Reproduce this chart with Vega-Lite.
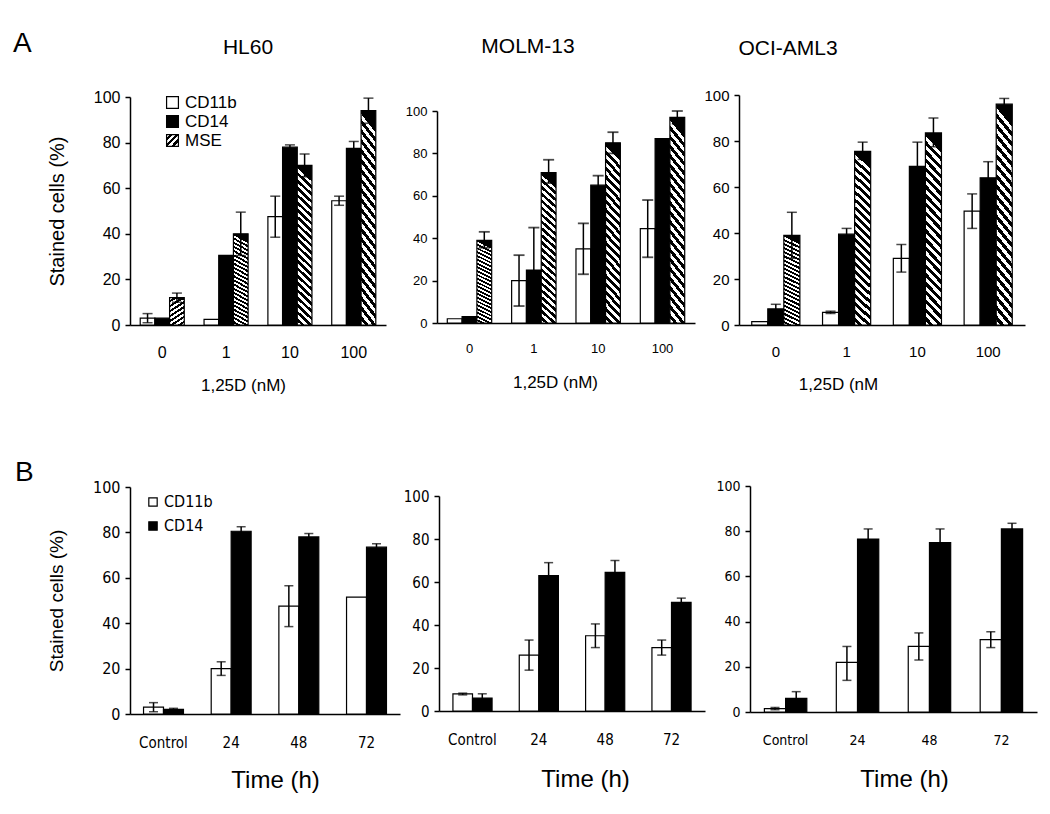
{
  "$schema": "https://vega.github.io/schema/vega-lite/v6.json",
  "background": "white",
  "padding": {"left": 13, "top": 30, "right": 5, "bottom": 5},
  "bounds": "flush",
  "spacing": 391,
  "resolve": {"scale": {"fill": "independent", "x": "independent", "y": "independent", "xOffset": "independent"}, "legend": {"fill": "independent"}},
  "config": {
    "view": {"stroke": null},
    "font": "Liberation Sans",
    "axis": {"grid": false, "domainColor": "black", "tickColor": "black", "labelColor": "black", "titleColor": "black", "titleFontWeight": "normal", "labelFont": "Liberation Sans", "titleFont": "Liberation Sans", "domainWidth": 1.5, "tickWidth": 1.5},
    "title": {"color": "black", "fontWeight": "normal", "font": "Liberation Sans"},
    "legend": {"labelColor": "black", "symbolStrokeColor": "black", "symbolStrokeWidth": 1.2, "symbolType": "square"}
  },
  "datasets": {
    "hl60A": [
      {"dose": "0", "marker": "CD11b", "value": 3, "lo": 1, "hi": 5},
      {"dose": "0", "marker": "CD14", "value": 3, "lo": null, "hi": null},
      {"dose": "0", "marker": "MSE", "value": 12, "lo": 10, "hi": 14},
      {"dose": "1", "marker": "CD11b", "value": 2.5, "lo": null, "hi": null},
      {"dose": "1", "marker": "CD14", "value": 30.5, "lo": null, "hi": null},
      {"dose": "1", "marker": "MSE", "value": 40, "lo": 30.5, "hi": 49.5},
      {"dose": "10", "marker": "CD11b", "value": 47.5, "lo": 38.5, "hi": 56.5},
      {"dose": "10", "marker": "CD14", "value": 78, "lo": 77, "hi": 79},
      {"dose": "10", "marker": "MSE", "value": 70, "lo": 65, "hi": 75},
      {"dose": "100", "marker": "CD11b", "value": 54.5, "lo": 52.5, "hi": 56.5},
      {"dose": "100", "marker": "CD14", "value": 77.5, "lo": 74.5, "hi": 80.5},
      {"dose": "100", "marker": "MSE", "value": 94, "lo": 88.5, "hi": 99.5}
    ],
    "molmA": [
      {"dose": "0", "marker": "CD11b", "value": 2, "lo": null, "hi": null},
      {"dose": "0", "marker": "CD14", "value": 3, "lo": null, "hi": null},
      {"dose": "0", "marker": "MSE", "value": 39, "lo": 35.5, "hi": 43},
      {"dose": "1", "marker": "CD11b", "value": 20, "lo": 8, "hi": 32},
      {"dose": "1", "marker": "CD14", "value": 25, "lo": 5, "hi": 45},
      {"dose": "1", "marker": "MSE", "value": 71, "lo": 66, "hi": 77},
      {"dose": "10", "marker": "CD11b", "value": 35, "lo": 23, "hi": 47},
      {"dose": "10", "marker": "CD14", "value": 65, "lo": 60.5, "hi": 69.5},
      {"dose": "10", "marker": "MSE", "value": 85, "lo": 80, "hi": 90},
      {"dose": "100", "marker": "CD11b", "value": 44.5, "lo": 31, "hi": 58},
      {"dose": "100", "marker": "CD14", "value": 87, "lo": null, "hi": null},
      {"dose": "100", "marker": "MSE", "value": 97, "lo": 94, "hi": 100}
    ],
    "ociA": [
      {"dose": "0", "marker": "CD11b", "value": 1.5, "lo": null, "hi": null},
      {"dose": "0", "marker": "CD14", "value": 7, "lo": 5, "hi": 9},
      {"dose": "0", "marker": "MSE", "value": 39, "lo": 29, "hi": 49},
      {"dose": "1", "marker": "CD11b", "value": 5.5, "lo": 5, "hi": 6},
      {"dose": "1", "marker": "CD14", "value": 39.5, "lo": 37, "hi": 42},
      {"dose": "1", "marker": "MSE", "value": 75.5, "lo": 72, "hi": 79.5},
      {"dose": "10", "marker": "CD11b", "value": 29, "lo": 23, "hi": 35},
      {"dose": "10", "marker": "CD14", "value": 69, "lo": 59, "hi": 79.5},
      {"dose": "10", "marker": "MSE", "value": 83.5, "lo": 77.5, "hi": 90},
      {"dose": "100", "marker": "CD11b", "value": 49.5, "lo": 42, "hi": 57},
      {"dose": "100", "marker": "CD14", "value": 64, "lo": 57, "hi": 71},
      {"dose": "100", "marker": "MSE", "value": 96, "lo": 93, "hi": 98.5}
    ],
    "hl60B": [
      {"time": "Control", "marker": "CD11b", "value": 3, "lo": 1, "hi": 5},
      {"time": "Control", "marker": "CD14", "value": 2, "lo": 1.5, "hi": 2.5},
      {"time": "24", "marker": "CD11b", "value": 20, "lo": 17, "hi": 23},
      {"time": "24", "marker": "CD14", "value": 80.5, "lo": 78.5, "hi": 82.5},
      {"time": "48", "marker": "CD11b", "value": 47.5, "lo": 38.5, "hi": 56.5},
      {"time": "48", "marker": "CD14", "value": 78, "lo": 76.5, "hi": 79.5},
      {"time": "72", "marker": "CD11b", "value": 51.5, "lo": null, "hi": null},
      {"time": "72", "marker": "CD14", "value": 73.5, "lo": 72, "hi": 75}
    ],
    "molmB": [
      {"time": "Control", "marker": "CD11b", "value": 8, "lo": 7.5, "hi": 8.3},
      {"time": "Control", "marker": "CD14", "value": 6, "lo": 4, "hi": 8},
      {"time": "24", "marker": "CD11b", "value": 26, "lo": 19, "hi": 33},
      {"time": "24", "marker": "CD14", "value": 63, "lo": 57.5, "hi": 69},
      {"time": "48", "marker": "CD11b", "value": 35, "lo": 29.5, "hi": 40.5},
      {"time": "48", "marker": "CD14", "value": 64.5, "lo": 59, "hi": 70},
      {"time": "72", "marker": "CD11b", "value": 29.5, "lo": 26, "hi": 33},
      {"time": "72", "marker": "CD14", "value": 50.5, "lo": 48.5, "hi": 52.5}
    ],
    "ociB": [
      {"time": "Control", "marker": "CD11b", "value": 1.5, "lo": 1, "hi": 2},
      {"time": "Control", "marker": "CD14", "value": 6, "lo": 3, "hi": 9},
      {"time": "24", "marker": "CD11b", "value": 22, "lo": 14, "hi": 29},
      {"time": "24", "marker": "CD14", "value": 76.5, "lo": 72, "hi": 81},
      {"time": "48", "marker": "CD11b", "value": 29, "lo": 23, "hi": 35},
      {"time": "48", "marker": "CD14", "value": 75, "lo": 69, "hi": 81},
      {"time": "72", "marker": "CD11b", "value": 32, "lo": 28.5, "hi": 35.5},
      {"time": "72", "marker": "CD14", "value": 81, "lo": 79, "hi": 83.5}
    ]
  },
  "vconcat": [
    {
      "title": {"text": "A", "anchor": "start", "frame": "group", "fontSize": 28, "fontWeight": "normal", "dx": -117, "dy": 22, "offset": 0},
      "bounds": "flush",
      "spacing": 51,
      "resolve": {"scale": {"fill": "independent", "x": "independent", "y": "independent", "xOffset": "independent"}, "legend": {"fill": "independent"}},
      "hconcat": [
        {
          "width": 256, "height": 230,
          "data": {"name": "hl60A"},
          "title": {"text": "HL60", "fontSize": 21, "fontWeight": "normal", "dx": -10, "offset": 31},
          "encoding": {
            "x": {"field": "dose", "type": "nominal", "sort": ["0", "1", "10", "100"], "scale": {"paddingInner": 0.31, "paddingOuter": 0.16}, "axis": {"labelAngle": 0, "ticks": false, "tickSize": 0, "labelFontSize": 16, "labelPadding": 19, "title": "1,25D (nM)", "titleFontSize": 17, "titleFontWeight": "normal", "titlePadding": 17, "titleX": 113}},
            "xOffset": {"field": "marker", "type": "nominal", "scale": {"domain": ["CD11b", "CD14", "MSE"], "paddingInner": 0, "paddingOuter": 0}}
          },
          "layer": [
            {"transform": [{"filter": "datum.marker !== 'MSE'"}],
             "mark": {"type": "bar", "stroke": "black", "strokeWidth": 1.2},
             "encoding": {
               "y": {"field": "value", "type": "quantitative", "scale": {"domain": [0, 100], "range": [230, 2]}, "axis": {"values": [0, 20, 40, 60, 80, 100], "tickSize": 5, "labelFontSize": 16, "labelPadding": 5, "title": "Stained cells (%)", "titleFontSize": 20, "titleFontWeight": "normal", "titlePadding": 26}},
               "fill": {"field": "marker", "type": "nominal", "scale": {"domain": ["CD11b", "CD14", "MSE"], "range": ["white", "black", "url(#gradient_0) #777777"]},
                 "legend": {"orient": "none", "legendX": 34, "legendY": -1, "title": null, "symbolSize": 140, "labelFontSize": 17, "rowPadding": 1, "labelOffset": 4}}
             }},
            {"transform": [{"filter": "datum.marker === 'MSE'"}],
             "mark": {"type": "bar", "stroke": "black", "strokeWidth": 1.2, "fill": {"gradient": "linear", "x1": 0.088, "y1": 0, "x2": 0, "y2": 1, "stops": [
                 {"offset": 0, "color": "black"}, {"offset": 0.0227, "color": "black"}, {"offset": 0.0227, "color": "white"}, {"offset": 0.0455, "color": "white"},
                 {"offset": 0.0455, "color": "black"}, {"offset": 0.0682, "color": "black"}, {"offset": 0.0682, "color": "white"}, {"offset": 0.0909, "color": "white"},
                 {"offset": 0.0909, "color": "black"}, {"offset": 0.1136, "color": "black"}, {"offset": 0.1136, "color": "white"}, {"offset": 0.1364, "color": "white"},
                 {"offset": 0.1364, "color": "black"}, {"offset": 0.1591, "color": "black"}, {"offset": 0.1591, "color": "white"}, {"offset": 0.1818, "color": "white"},
                 {"offset": 0.1818, "color": "black"}, {"offset": 0.2045, "color": "black"}, {"offset": 0.2045, "color": "white"}, {"offset": 0.2273, "color": "white"},
                 {"offset": 0.2273, "color": "black"}, {"offset": 0.25, "color": "black"}, {"offset": 0.25, "color": "white"}, {"offset": 0.2727, "color": "white"},
                 {"offset": 0.2727, "color": "black"}, {"offset": 0.2955, "color": "black"}, {"offset": 0.2955, "color": "white"}, {"offset": 0.3182, "color": "white"},
                 {"offset": 0.3182, "color": "black"}, {"offset": 0.3409, "color": "black"}, {"offset": 0.3409, "color": "white"}, {"offset": 0.3636, "color": "white"},
                 {"offset": 0.3636, "color": "black"}, {"offset": 0.3864, "color": "black"}, {"offset": 0.3864, "color": "white"}, {"offset": 0.4091, "color": "white"},
                 {"offset": 0.4091, "color": "black"}, {"offset": 0.4318, "color": "black"}, {"offset": 0.4318, "color": "white"}, {"offset": 0.4545, "color": "white"},
                 {"offset": 0.4545, "color": "black"}, {"offset": 0.4773, "color": "black"}, {"offset": 0.4773, "color": "white"}, {"offset": 0.5, "color": "white"},
                 {"offset": 0.5, "color": "black"}, {"offset": 0.5227, "color": "black"}, {"offset": 0.5227, "color": "white"}, {"offset": 0.5455, "color": "white"},
                 {"offset": 0.5455, "color": "black"}, {"offset": 0.5682, "color": "black"}, {"offset": 0.5682, "color": "white"}, {"offset": 0.5909, "color": "white"},
                 {"offset": 0.5909, "color": "black"}, {"offset": 0.6136, "color": "black"}, {"offset": 0.6136, "color": "white"}, {"offset": 0.6364, "color": "white"},
                 {"offset": 0.6364, "color": "black"}, {"offset": 0.6591, "color": "black"}, {"offset": 0.6591, "color": "white"}, {"offset": 0.6818, "color": "white"},
                 {"offset": 0.6818, "color": "black"}, {"offset": 0.7045, "color": "black"}, {"offset": 0.7045, "color": "white"}, {"offset": 0.7273, "color": "white"},
                 {"offset": 0.7273, "color": "black"}, {"offset": 0.75, "color": "black"}, {"offset": 0.75, "color": "white"}, {"offset": 0.7727, "color": "white"},
                 {"offset": 0.7727, "color": "black"}, {"offset": 0.7955, "color": "black"}, {"offset": 0.7955, "color": "white"}, {"offset": 0.8182, "color": "white"},
                 {"offset": 0.8182, "color": "black"}, {"offset": 0.8409, "color": "black"}, {"offset": 0.8409, "color": "white"}, {"offset": 0.8636, "color": "white"},
                 {"offset": 0.8636, "color": "black"}, {"offset": 0.8864, "color": "black"}, {"offset": 0.8864, "color": "white"}, {"offset": 0.9091, "color": "white"},
                 {"offset": 0.9091, "color": "black"}, {"offset": 0.9318, "color": "black"}, {"offset": 0.9318, "color": "white"}, {"offset": 0.9545, "color": "white"},
                 {"offset": 0.9545, "color": "black"}, {"offset": 0.9773, "color": "black"}, {"offset": 0.9773, "color": "white"}, {"offset": 1, "color": "white"}
               ]}},
             "encoding": {"y": {"field": "value", "type": "quantitative"}}},
            {"mark": {"type": "rule", "color": "black", "strokeWidth": 1.5}, "encoding": {"y": {"field": "lo", "type": "quantitative"}, "y2": {"field": "hi"}}},
            {"mark": {"type": "tick", "color": "black", "size": 10, "thickness": 1.5}, "encoding": {"y": {"field": "hi", "type": "quantitative"}}},
            {"mark": {"type": "tick", "color": "black", "size": 10, "thickness": 1.5}, "encoding": {"y": {"field": "lo", "type": "quantitative"}}}
          ]
        },
        {
          "bounds": "flush",
          "spacing": 44,
          "resolve": {"scale": {"fill": "independent", "x": "independent", "y": "independent", "xOffset": "independent"}, "legend": {"fill": "independent"}},
          "hconcat": [
            {
              "width": 258, "height": 228,
              "data": {"name": "molmA"},
              "title": {"text": "MOLM-13", "fontSize": 21, "fontWeight": "normal", "dx": -38, "offset": 38},
              "encoding": {
                "x": {"field": "dose", "type": "nominal", "sort": ["0", "1", "10", "100"], "scale": {"paddingInner": 0.31, "paddingOuter": 0.16}, "axis": {"labelAngle": 0, "ticks": false, "tickSize": 0, "labelFontSize": 13, "labelPadding": 19, "title": "1,25D (nM)", "titleFontSize": 17, "titleFontWeight": "normal", "titlePadding": 19, "titleX": 118}},
                "xOffset": {"field": "marker", "type": "nominal", "scale": {"domain": ["CD11b", "CD14", "MSE"], "paddingInner": 0, "paddingOuter": 0}}
              },
              "layer": [
                {"transform": [{"filter": "datum.marker !== 'MSE'"}],
                 "mark": {"type": "bar", "stroke": "black", "strokeWidth": 1.2},
                 "encoding": {
                   "y": {"field": "value", "type": "quantitative", "scale": {"domain": [0, 100], "range": [228, 16]}, "axis": {"values": [0, 20, 40, 60, 80, 100], "tickSize": 5, "labelFontSize": 13, "labelPadding": 5, "title": null}},
                   "fill": {"field": "marker", "type": "nominal", "scale": {"domain": ["CD11b", "CD14"], "range": ["white", "black"]}, "legend": null}
                 }},
                {"transform": [{"filter": "datum.marker === 'MSE'"}],
                 "mark": {"type": "bar", "stroke": "black", "strokeWidth": 1.2, "fill": {"gradient": "linear", "x1": 0.088, "y1": 0, "x2": 0, "y2": 1, "stops": [
                     {"offset": 0, "color": "black"}, {"offset": 0.0227, "color": "black"}, {"offset": 0.0227, "color": "white"}, {"offset": 0.0455, "color": "white"},
                     {"offset": 0.0455, "color": "black"}, {"offset": 0.0682, "color": "black"}, {"offset": 0.0682, "color": "white"}, {"offset": 0.0909, "color": "white"},
                     {"offset": 0.0909, "color": "black"}, {"offset": 0.1136, "color": "black"}, {"offset": 0.1136, "color": "white"}, {"offset": 0.1364, "color": "white"},
                     {"offset": 0.1364, "color": "black"}, {"offset": 0.1591, "color": "black"}, {"offset": 0.1591, "color": "white"}, {"offset": 0.1818, "color": "white"},
                     {"offset": 0.1818, "color": "black"}, {"offset": 0.2045, "color": "black"}, {"offset": 0.2045, "color": "white"}, {"offset": 0.2273, "color": "white"},
                     {"offset": 0.2273, "color": "black"}, {"offset": 0.25, "color": "black"}, {"offset": 0.25, "color": "white"}, {"offset": 0.2727, "color": "white"},
                     {"offset": 0.2727, "color": "black"}, {"offset": 0.2955, "color": "black"}, {"offset": 0.2955, "color": "white"}, {"offset": 0.3182, "color": "white"},
                     {"offset": 0.3182, "color": "black"}, {"offset": 0.3409, "color": "black"}, {"offset": 0.3409, "color": "white"}, {"offset": 0.3636, "color": "white"},
                     {"offset": 0.3636, "color": "black"}, {"offset": 0.3864, "color": "black"}, {"offset": 0.3864, "color": "white"}, {"offset": 0.4091, "color": "white"},
                     {"offset": 0.4091, "color": "black"}, {"offset": 0.4318, "color": "black"}, {"offset": 0.4318, "color": "white"}, {"offset": 0.4545, "color": "white"},
                     {"offset": 0.4545, "color": "black"}, {"offset": 0.4773, "color": "black"}, {"offset": 0.4773, "color": "white"}, {"offset": 0.5, "color": "white"},
                     {"offset": 0.5, "color": "black"}, {"offset": 0.5227, "color": "black"}, {"offset": 0.5227, "color": "white"}, {"offset": 0.5455, "color": "white"},
                     {"offset": 0.5455, "color": "black"}, {"offset": 0.5682, "color": "black"}, {"offset": 0.5682, "color": "white"}, {"offset": 0.5909, "color": "white"},
                     {"offset": 0.5909, "color": "black"}, {"offset": 0.6136, "color": "black"}, {"offset": 0.6136, "color": "white"}, {"offset": 0.6364, "color": "white"},
                     {"offset": 0.6364, "color": "black"}, {"offset": 0.6591, "color": "black"}, {"offset": 0.6591, "color": "white"}, {"offset": 0.6818, "color": "white"},
                     {"offset": 0.6818, "color": "black"}, {"offset": 0.7045, "color": "black"}, {"offset": 0.7045, "color": "white"}, {"offset": 0.7273, "color": "white"},
                     {"offset": 0.7273, "color": "black"}, {"offset": 0.75, "color": "black"}, {"offset": 0.75, "color": "white"}, {"offset": 0.7727, "color": "white"},
                     {"offset": 0.7727, "color": "black"}, {"offset": 0.7955, "color": "black"}, {"offset": 0.7955, "color": "white"}, {"offset": 0.8182, "color": "white"},
                     {"offset": 0.8182, "color": "black"}, {"offset": 0.8409, "color": "black"}, {"offset": 0.8409, "color": "white"}, {"offset": 0.8636, "color": "white"},
                     {"offset": 0.8636, "color": "black"}, {"offset": 0.8864, "color": "black"}, {"offset": 0.8864, "color": "white"}, {"offset": 0.9091, "color": "white"},
                     {"offset": 0.9091, "color": "black"}, {"offset": 0.9318, "color": "black"}, {"offset": 0.9318, "color": "white"}, {"offset": 0.9545, "color": "white"},
                     {"offset": 0.9545, "color": "black"}, {"offset": 0.9773, "color": "black"}, {"offset": 0.9773, "color": "white"}, {"offset": 1, "color": "white"}
                   ]}},
                 "encoding": {"y": {"field": "value", "type": "quantitative"}}},
                {"mark": {"type": "rule", "color": "black", "strokeWidth": 1.5}, "encoding": {"y": {"field": "lo", "type": "quantitative"}, "y2": {"field": "hi"}}},
                {"mark": {"type": "tick", "color": "black", "size": 11, "thickness": 1.8}, "encoding": {"y": {"field": "hi", "type": "quantitative"}}},
                {"mark": {"type": "tick", "color": "black", "size": 11, "thickness": 1.8}, "encoding": {"y": {"field": "lo", "type": "quantitative"}}}
              ]
            },
            {
              "width": 286, "height": 230,
              "data": {"name": "ociA"},
              "title": {"text": "OCI-AML3", "fontSize": 21, "fontWeight": "normal", "dx": -94, "offset": 29},
              "encoding": {
                "x": {"field": "dose", "type": "nominal", "sort": ["0", "1", "10", "100"], "scale": {"paddingInner": 0.32, "paddingOuter": 0.18}, "axis": {"labelAngle": 0, "ticks": false, "tickSize": 0, "labelFontSize": 15, "labelPadding": 19, "title": "1,25D (nM", "titleFontSize": 17, "titleFontWeight": "normal", "titlePadding": 17, "titleX": 99}},
                "xOffset": {"field": "marker", "type": "nominal", "scale": {"domain": ["CD11b", "CD14", "MSE"], "paddingInner": 0, "paddingOuter": 0}}
              },
              "layer": [
                {"transform": [{"filter": "datum.marker !== 'MSE'"}],
                 "mark": {"type": "bar", "stroke": "black", "strokeWidth": 1.2},
                 "encoding": {
                   "y": {"field": "value", "type": "quantitative", "scale": {"domain": [0, 100], "range": [230, 0]}, "axis": {"values": [0, 20, 40, 60, 80, 100], "tickSize": 5, "labelFontSize": 15, "labelPadding": 5, "title": null}},
                   "fill": {"field": "marker", "type": "nominal", "scale": {"domain": ["CD11b", "CD14"], "range": ["white", "black"]}, "legend": null}
                 }},
                {"transform": [{"filter": "datum.marker === 'MSE'"}],
                 "mark": {"type": "bar", "stroke": "black", "strokeWidth": 1.2, "fill": {"gradient": "linear", "x1": 0.088, "y1": 0, "x2": 0, "y2": 1, "stops": [
                     {"offset": 0, "color": "black"}, {"offset": 0.0227, "color": "black"}, {"offset": 0.0227, "color": "white"}, {"offset": 0.0455, "color": "white"},
                     {"offset": 0.0455, "color": "black"}, {"offset": 0.0682, "color": "black"}, {"offset": 0.0682, "color": "white"}, {"offset": 0.0909, "color": "white"},
                     {"offset": 0.0909, "color": "black"}, {"offset": 0.1136, "color": "black"}, {"offset": 0.1136, "color": "white"}, {"offset": 0.1364, "color": "white"},
                     {"offset": 0.1364, "color": "black"}, {"offset": 0.1591, "color": "black"}, {"offset": 0.1591, "color": "white"}, {"offset": 0.1818, "color": "white"},
                     {"offset": 0.1818, "color": "black"}, {"offset": 0.2045, "color": "black"}, {"offset": 0.2045, "color": "white"}, {"offset": 0.2273, "color": "white"},
                     {"offset": 0.2273, "color": "black"}, {"offset": 0.25, "color": "black"}, {"offset": 0.25, "color": "white"}, {"offset": 0.2727, "color": "white"},
                     {"offset": 0.2727, "color": "black"}, {"offset": 0.2955, "color": "black"}, {"offset": 0.2955, "color": "white"}, {"offset": 0.3182, "color": "white"},
                     {"offset": 0.3182, "color": "black"}, {"offset": 0.3409, "color": "black"}, {"offset": 0.3409, "color": "white"}, {"offset": 0.3636, "color": "white"},
                     {"offset": 0.3636, "color": "black"}, {"offset": 0.3864, "color": "black"}, {"offset": 0.3864, "color": "white"}, {"offset": 0.4091, "color": "white"},
                     {"offset": 0.4091, "color": "black"}, {"offset": 0.4318, "color": "black"}, {"offset": 0.4318, "color": "white"}, {"offset": 0.4545, "color": "white"},
                     {"offset": 0.4545, "color": "black"}, {"offset": 0.4773, "color": "black"}, {"offset": 0.4773, "color": "white"}, {"offset": 0.5, "color": "white"},
                     {"offset": 0.5, "color": "black"}, {"offset": 0.5227, "color": "black"}, {"offset": 0.5227, "color": "white"}, {"offset": 0.5455, "color": "white"},
                     {"offset": 0.5455, "color": "black"}, {"offset": 0.5682, "color": "black"}, {"offset": 0.5682, "color": "white"}, {"offset": 0.5909, "color": "white"},
                     {"offset": 0.5909, "color": "black"}, {"offset": 0.6136, "color": "black"}, {"offset": 0.6136, "color": "white"}, {"offset": 0.6364, "color": "white"},
                     {"offset": 0.6364, "color": "black"}, {"offset": 0.6591, "color": "black"}, {"offset": 0.6591, "color": "white"}, {"offset": 0.6818, "color": "white"},
                     {"offset": 0.6818, "color": "black"}, {"offset": 0.7045, "color": "black"}, {"offset": 0.7045, "color": "white"}, {"offset": 0.7273, "color": "white"},
                     {"offset": 0.7273, "color": "black"}, {"offset": 0.75, "color": "black"}, {"offset": 0.75, "color": "white"}, {"offset": 0.7727, "color": "white"},
                     {"offset": 0.7727, "color": "black"}, {"offset": 0.7955, "color": "black"}, {"offset": 0.7955, "color": "white"}, {"offset": 0.8182, "color": "white"},
                     {"offset": 0.8182, "color": "black"}, {"offset": 0.8409, "color": "black"}, {"offset": 0.8409, "color": "white"}, {"offset": 0.8636, "color": "white"},
                     {"offset": 0.8636, "color": "black"}, {"offset": 0.8864, "color": "black"}, {"offset": 0.8864, "color": "white"}, {"offset": 0.9091, "color": "white"},
                     {"offset": 0.9091, "color": "black"}, {"offset": 0.9318, "color": "black"}, {"offset": 0.9318, "color": "white"}, {"offset": 0.9545, "color": "white"},
                     {"offset": 0.9545, "color": "black"}, {"offset": 0.9773, "color": "black"}, {"offset": 0.9773, "color": "white"}, {"offset": 1, "color": "white"}
                   ]}},
                 "encoding": {"y": {"field": "value", "type": "quantitative"}}},
                {"mark": {"type": "rule", "color": "black", "strokeWidth": 1.5}, "encoding": {"y": {"field": "lo", "type": "quantitative"}, "y2": {"field": "hi"}}},
                {"mark": {"type": "tick", "color": "black", "size": 10, "thickness": 1.5}, "encoding": {"y": {"field": "hi", "type": "quantitative"}}},
                {"mark": {"type": "tick", "color": "black", "size": 10, "thickness": 1.5}, "encoding": {"y": {"field": "lo", "type": "quantitative"}}}
              ]
            }
          ]
        }
      ]
    },
    {
      "title": {"text": "B", "anchor": "start", "frame": "group", "fontSize": 28, "fontWeight": "normal", "dx": -115, "dy": 8, "offset": 0},
      "bounds": "flush",
      "spacing": 39,
      "resolve": {"scale": {"fill": "independent", "x": "independent", "y": "independent", "xOffset": "independent"}, "legend": {"fill": "independent"}},
      "hconcat": [
        {
          "width": 270, "height": 228,
          "data": {"name": "hl60B"},
          "encoding": {
            "x": {"field": "time", "type": "nominal", "sort": ["Control", "24", "48", "72"], "scale": {"paddingInner": 0.41, "paddingOuter": 0.2}, "axis": {"labelAngle": 0, "ticks": false, "tickSize": 0, "labelFont": "DejaVu Sans Condensed, Liberation Sans", "labelFontSize": 15, "labelPadding": 21, "title": "Time (h)", "titleFontSize": 24, "titleFontWeight": "normal", "titlePadding": 18, "titleX": 145}},
            "xOffset": {"field": "marker", "type": "nominal", "scale": {"domain": ["CD11b", "CD14"], "paddingInner": 0, "paddingOuter": 0}}
          },
          "layer": [
            {"mark": {"type": "bar", "stroke": "black", "strokeWidth": 1.2},
             "encoding": {
               "y": {"field": "value", "type": "quantitative", "scale": {"domain": [0, 100], "range": [228, 1]}, "axis": {"values": [0, 20, 40, 60, 80, 100], "tickSize": 5, "labelFont": "DejaVu Sans Condensed, Liberation Sans", "labelFontSize": 16, "labelPadding": 5, "title": "Stained cells (%)", "titleFontSize": 19, "titleFontWeight": "normal", "titlePadding": 26}},
               "fill": {"field": "marker", "type": "nominal", "scale": {"domain": ["CD11b", "CD14"], "range": ["white", "black"]},
                 "legend": {"orient": "none", "legendX": 15, "legendY": 8, "title": null, "symbolSize": 70, "labelFont": "DejaVu Sans Condensed, Liberation Sans", "labelFontSize": 16, "rowPadding": 8, "labelOffset": 3}}
             }},
            {"mark": {"type": "rule", "color": "black", "strokeWidth": 1.5}, "encoding": {"y": {"field": "lo", "type": "quantitative"}, "y2": {"field": "hi"}}},
            {"mark": {"type": "tick", "color": "black", "size": 9, "thickness": 1.5}, "encoding": {"y": {"field": "hi", "type": "quantitative"}}},
            {"mark": {"type": "tick", "color": "black", "size": 9, "thickness": 1.5}, "encoding": {"y": {"field": "lo", "type": "quantitative"}}}
          ]
        },
        {
          "bounds": "flush",
          "spacing": 45,
          "resolve": {"scale": {"fill": "independent", "x": "independent", "y": "independent", "xOffset": "independent"}, "legend": {"fill": "independent"}},
          "hconcat": [
            {
              "width": 266, "height": 225,
              "data": {"name": "molmB"},
              "encoding": {
                "x": {"field": "time", "type": "nominal", "sort": ["Control", "24", "48", "72"], "scale": {"paddingInner": 0.41, "paddingOuter": 0.21}, "axis": {"labelAngle": 0, "ticks": false, "tickSize": 0, "labelFont": "DejaVu Sans Condensed, Liberation Sans", "labelFontSize": 15, "labelPadding": 21, "title": "Time (h)", "titleFontSize": 24, "titleFontWeight": "normal", "titlePadding": 20, "titleX": 146}},
                "xOffset": {"field": "marker", "type": "nominal", "scale": {"domain": ["CD11b", "CD14"], "paddingInner": 0, "paddingOuter": 0}}
              },
              "layer": [
                {"mark": {"type": "bar", "stroke": "black", "strokeWidth": 1.2},
                 "encoding": {
                   "y": {"field": "value", "type": "quantitative", "scale": {"domain": [0, 100], "range": [225, 10]}, "axis": {"values": [0, 20, 40, 60, 80, 100], "tickSize": 5, "labelFont": "DejaVu Sans Condensed, Liberation Sans", "labelFontSize": 15, "labelPadding": 5, "title": null}},
                   "fill": {"field": "marker", "type": "nominal", "scale": {"domain": ["CD11b", "CD14"], "range": ["white", "black"]}, "legend": null}
                 }},
                {"mark": {"type": "rule", "color": "black", "strokeWidth": 1.5}, "encoding": {"y": {"field": "lo", "type": "quantitative"}, "y2": {"field": "hi"}}},
                {"mark": {"type": "tick", "color": "black", "size": 9, "thickness": 1.5}, "encoding": {"y": {"field": "hi", "type": "quantitative"}}},
                {"mark": {"type": "tick", "color": "black", "size": 9, "thickness": 1.5}, "encoding": {"y": {"field": "lo", "type": "quantitative"}}}
              ]
            },
            {
              "width": 287, "height": 226,
              "data": {"name": "ociB"},
              "encoding": {
                "x": {"field": "time", "type": "nominal", "sort": ["Control", "24", "48", "72"], "scale": {"paddingInner": 0.41, "paddingOuter": 0.2}, "axis": {"labelAngle": 0, "ticks": false, "tickSize": 0, "labelFont": "DejaVu Sans Condensed, Liberation Sans", "labelFontSize": 14, "labelPadding": 21, "title": "Time (h)", "titleFontSize": 24, "titleFontWeight": "normal", "titlePadding": 20, "titleX": 154}},
                "xOffset": {"field": "marker", "type": "nominal", "scale": {"domain": ["CD11b", "CD14"], "paddingInner": 0, "paddingOuter": 0}}
              },
              "layer": [
                {"mark": {"type": "bar", "stroke": "black", "strokeWidth": 1.2},
                 "encoding": {
                   "y": {"field": "value", "type": "quantitative", "scale": {"domain": [0, 100], "range": [226, 0]}, "axis": {"values": [0, 20, 40, 60, 80, 100], "tickSize": 5, "labelFont": "DejaVu Sans Condensed, Liberation Sans", "labelFontSize": 14, "labelPadding": 5, "title": null}},
                   "fill": {"field": "marker", "type": "nominal", "scale": {"domain": ["CD11b", "CD14"], "range": ["white", "black"]}, "legend": null}
                 }},
                {"mark": {"type": "rule", "color": "black", "strokeWidth": 1.5}, "encoding": {"y": {"field": "lo", "type": "quantitative"}, "y2": {"field": "hi"}}},
                {"mark": {"type": "tick", "color": "black", "size": 9, "thickness": 1.5}, "encoding": {"y": {"field": "hi", "type": "quantitative"}}},
                {"mark": {"type": "tick", "color": "black", "size": 9, "thickness": 1.5}, "encoding": {"y": {"field": "lo", "type": "quantitative"}}}
              ]
            }
          ]
        }
      ]
    }
  ]
}
